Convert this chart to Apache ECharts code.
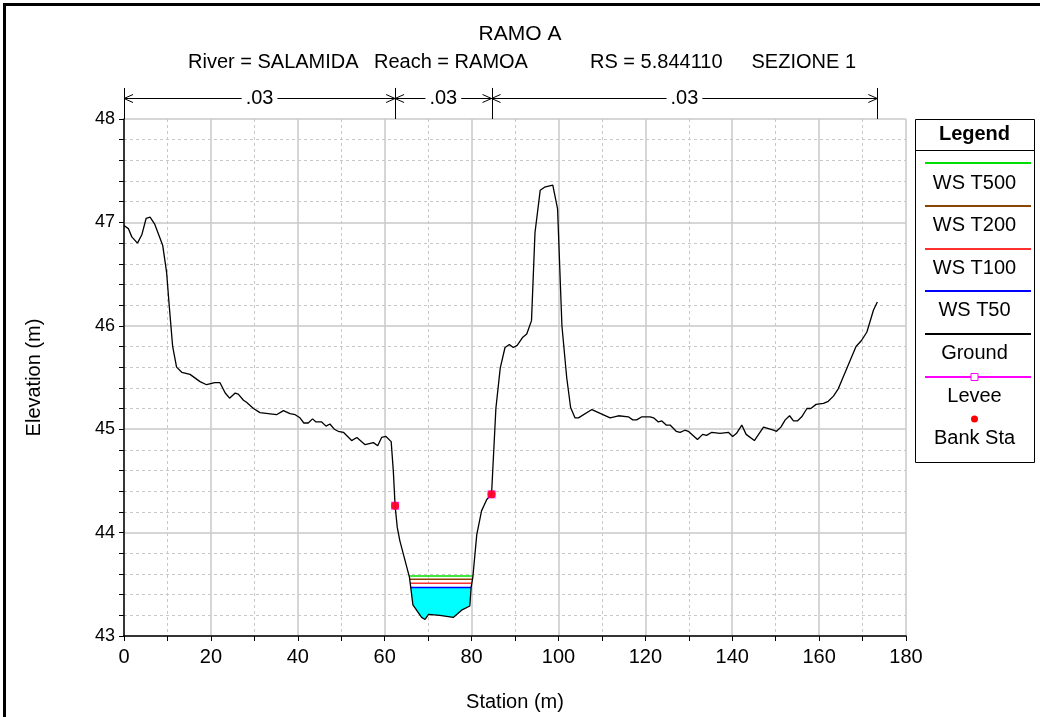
<!DOCTYPE html>
<html>
<head>
<meta charset="utf-8">
<script src="https://cdn.jsdelivr.net/npm/echarts@6/dist/echarts.min.js"></script>
<style>html,body{margin:0;padding:0;background:#fff;}#c{width:1040px;height:717px;}</style>
</head>
<body>
<div id="c"></div>
<script>
// ---- data ----
const groundStation = [0,1.0,1.8,3.1,4.1,5.1,6.0,7.1,8.9,9.8,10.4,11.2,12.1,13.3,15.2,17.5,19.0,20.9,22.1,23.3,24.3,25.6,26.3,27.5,28.2,29.8,31.3,35.1,36.7,38.2,39.4,40.5,41.4,42.4,43.4,44.2,45.5,46.5,47.4,48.4,49.3,50.5,52.4,53.6,55.5,57.4,58.4,59.3,60.3,61.5,62.0,62.4,62.9,63.5,65.7,66.0,66.5,68.5,69.3,70.1,72.7,75.8,77.7,79.6,79.9,80.3,81.2,82.3,83.5,84.6,85.6,86.6,87.7,88.7,89.6,90.5,91.8,92.7,93.8,94.6,95.8,96.8,98.7,99.8,100.8,101.9,102.8,103.8,104.6,107.7,111.9,113.8,116.1,117.1,118.0,119.2,121.1,121.9,123.0,123.8,124.8,125.7,127.1,128.0,129.1,129.9,132.0,133.2,134.1,135.3,137.2,139.1,140.1,141.0,142.2,143.2,145.1,147.2,149.5,150.2,151.2,152.2,153.2,154.1,155.0,156.0,157.2,158.1,159.3,161.0,162.1,163.3,164.4,165.4,166.3,167.5,168.5,169.8,171.0,172.5,173.4];
const groundElev = [46.97,46.94,46.86,46.80,46.88,47.04,47.05,46.98,46.78,46.52,46.20,45.80,45.60,45.55,45.53,45.46,45.43,45.45,45.45,45.35,45.30,45.35,45.34,45.28,45.26,45.20,45.16,45.14,45.18,45.15,45.14,45.11,45.06,45.06,45.10,45.07,45.07,45.03,45.05,45.00,44.98,44.97,44.89,44.92,44.85,44.87,44.84,44.92,44.93,44.88,44.59,44.26,44.05,43.92,43.57,43.47,43.30,43.18,43.16,43.21,43.20,43.18,43.25,43.29,43.47,43.57,43.98,44.21,44.32,44.37,45.20,45.59,45.79,45.82,45.79,45.81,45.89,45.92,46.05,46.90,47.31,47.34,47.36,47.13,46.00,45.50,45.21,45.11,45.11,45.19,45.11,45.13,45.12,45.09,45.09,45.12,45.12,45.11,45.07,45.08,45.04,45.04,44.98,44.97,44.99,44.98,44.90,44.95,44.94,44.97,44.96,44.97,44.93,44.96,45.04,44.95,44.89,45.02,44.99,44.98,45.02,45.09,45.13,45.08,45.08,45.12,45.20,45.20,45.24,45.25,45.27,45.32,45.39,45.49,45.58,45.70,45.80,45.86,45.94,46.15,46.23];
const wsNames = ['WS T500','WS T200','WS T100','WS T50'];
const wsElev = [43.58, 43.55, 43.51, 43.47];
const wsColors = ['#00e000','#8b4500','#ff3030','#0000ff'];
const bankStation = [62.4, 84.6];
const bankElev = [44.26, 44.37];
const nBounds = [0, 62.4, 84.6, 173.4];
const nLabels = ['.03', '.03', '.03'];
const xTicks = [0, 180, 20];
const yTicks = [43, 48, 1];

// ---- helpers (geometry only) ----
const ground = groundStation.map((s, i) => [s, groundElev[i]]);
let thalweg = 0;
groundElev.forEach((e, i) => { if (e < groundElev[thalweg]) thalweg = i; });
function crossings(ws) {
  let i = thalweg;
  while (i > 0 && groundElev[i - 1] < ws) i--;
  const a = ground[i - 1], b = ground[i];
  const xl = a[0] + (ws - a[1]) / (b[1] - a[1]) * (b[0] - a[0]);
  let j = thalweg;
  while (j < ground.length - 1 && groundElev[j + 1] < ws) j++;
  const c = ground[j], d = ground[j + 1];
  const xr = c[0] + (ws - c[1]) / (d[1] - c[1]) * (d[0] - c[0]);
  return { xl, xr, i, j };
}
const wetWs = wsElev[wsElev.length - 1];
const wc = crossings(wetWs);
const wetPoly = [[wc.xl, wetWs]].concat(ground.slice(wc.i, wc.j + 1)).concat([[wc.xr, wetWs]]);

const FONT = "'Liberation Sans', Arial, sans-serif";
const FS = 20;
const chart = echarts.init(document.getElementById('c'));

const series = [];
series.push({
  type: 'custom', name: 'water', silent: true, z: 2,
  data: [[70, 43.3]],
  renderItem: function (params, api) {
    return { type: 'polygon', shape: { points: wetPoly.map(p => api.coord(p)) }, style: { fill: '#00ffff' } };
  }
});
wsNames.forEach((n, k) => {
  const c = crossings(wsElev[k]);
  series.push({
    type: 'line', name: n, z: 3, symbol: 'none', silent: true,
    data: [[c.xl, wsElev[k]], [c.xr, wsElev[k]]],
    lineStyle: { color: wsColors[k], width: 1.5 }
  });
});
series.push({
  type: 'line', name: 'Ground', z: 4, symbol: 'none', silent: true,
  data: ground, lineStyle: { color: '#000', width: 1.3 }
});
series.push({
  type: 'scatter', name: 'Levee', z: 5, symbol: 'rect', symbolSize: 8, silent: true,
  data: bankStation.map((s, i) => [s, bankElev[i]]),
  itemStyle: { color: '#ff00ff' }
});
series.push({
  type: 'scatter', name: 'Bank Sta', z: 6, symbol: 'circle', symbolSize: 8, silent: true,
  data: bankStation.map((s, i) => [s, bankElev[i]]),
  itemStyle: { color: '#ff0000' }
});
// Manning's n arrows above plot
series.push({
  type: 'custom', name: 'nvalues', silent: true, clip: false, z: 7,
  data: nLabels.map((l, i) => [nBounds[i], nBounds[i + 1], i]),
  renderItem: function (params, api) {
    const s0 = api.value(0), s1 = api.value(1), idx = api.value(2);
    const p0 = api.coord([s0, 48.2]), p1 = api.coord([s1, 48.2]);
    const top0 = api.coord([s0, 48.3]), bot0 = api.coord([s0, 48]);
    const top1 = api.coord([s1, 48.3]), bot1 = api.coord([s1, 48]);
    const y = Math.round(p0[1]) + 0.5;
    const ah = 9, aw = 4;
    const ls = { stroke: '#000', lineWidth: 1, fill: null };
    const children = [
      { type: 'line', shape: { x1: p0[0], y1: y, x2: p1[0], y2: y }, style: ls },
      { type: 'polyline', shape: { points: [[p0[0] + ah, y - aw], [p0[0], y], [p0[0] + ah, y + aw]] }, style: ls },
      { type: 'polyline', shape: { points: [[p1[0] - ah, y - aw], [p1[0], y], [p1[0] - ah, y + aw]] }, style: ls },
      { type: 'line', shape: { x1: Math.round(top0[0]) + 0.5, y1: top0[1], x2: Math.round(bot0[0]) + 0.5, y2: bot0[1] }, style: ls },
      { type: 'line', shape: { x1: Math.round(top1[0]) + 0.5, y1: top1[1], x2: Math.round(bot1[0]) + 0.5, y2: bot1[1] }, style: ls },
      { type: 'text', x: (p0[0] + p1[0]) / 2, y: y, style: { text: nLabels[idx], fill: '#000', font: FS + 'px ' + FONT, align: 'center', verticalAlign: 'middle', backgroundColor: '#fff', padding: [0, 4] } }
    ];
    return { type: 'group', children: children };
  }
});

// legend graphic
const LX = 915, LY = 119, LW = 119, LH = 343;
const legendItems = [
  { t: 'WS T500', c: wsColors[0], ly: 163, ty: 183 },
  { t: 'WS T200', c: wsColors[1], ly: 206, ty: 225 },
  { t: 'WS T100', c: wsColors[2], ly: 249, ty: 268 },
  { t: 'WS T50', c: wsColors[3], ly: 291, ty: 310 },
  { t: 'Ground', c: '#000', ly: 334, ty: 353 },
  { t: 'Levee', c: '#ff00ff', ly: 377, ty: 396, sq: true },
  { t: 'Bank Sta', c: null, ly: 419, ty: 438, dot: true }
];
const graphic = [
  { type: 'line', shape: { x1: 4.5, y1: 3, x2: 4.5, y2: 717 }, style: { stroke: '#000', lineWidth: 3 } },
  { type: 'line', shape: { x1: 3, y1: 4.5, x2: 1040, y2: 4.5 }, style: { stroke: '#000', lineWidth: 3 } },
  { type: 'text', x: 520, y: 34, style: { text: 'RAMO A', font: '21px ' + FONT, fill: '#000', align: 'center', verticalAlign: 'middle' } },
  { type: 'text', x: 188, y: 62, style: { text: 'River = SALAMIDA', font: FS + 'px ' + FONT, fill: '#000', align: 'left', verticalAlign: 'middle' } },
  { type: 'text', x: 374, y: 62, style: { text: 'Reach = RAMOA', font: FS + 'px ' + FONT, fill: '#000', align: 'left', verticalAlign: 'middle' } },
  { type: 'text', x: 590, y: 62, style: { text: 'RS = 5.844110', font: FS + 'px ' + FONT, fill: '#000', align: 'left', verticalAlign: 'middle' } },
  { type: 'text', x: 856, y: 62, style: { text: 'SEZIONE 1', font: FS + 'px ' + FONT, fill: '#000', align: 'right', verticalAlign: 'middle' } },
  { type: 'rect', shape: { x: LX + 0.5, y: LY + 0.5, width: LW, height: LH }, style: { fill: '#fff', stroke: '#000', lineWidth: 1 } },
  { type: 'line', shape: { x1: LX, y1: 150.5, x2: LX + LW, y2: 150.5 }, style: { stroke: '#000', lineWidth: 1 } },
  { type: 'text', x: LX + LW / 2, y: 134, style: { text: 'Legend', font: 'bold ' + FS + 'px ' + FONT, fill: '#000', align: 'center', verticalAlign: 'middle' } }
];
legendItems.forEach(it => {
  if (it.dot) {
    graphic.push({ type: 'circle', shape: { cx: LX + LW / 2, cy: it.ly, r: 3.5 }, style: { fill: '#ff0000' } });
  } else {
    graphic.push({ type: 'line', shape: { x1: LX + 10, y1: it.ly, x2: LX + LW - 3, y2: it.ly }, style: { stroke: it.c, lineWidth: 2 } });
  }
  if (it.sq) {
    graphic.push({ type: 'rect', shape: { x: LX + LW / 2 - 3.5, y: it.ly - 3.5, width: 7, height: 7 }, style: { fill: '#fff', stroke: '#ff00ff', lineWidth: 1 } });
  }
  graphic.push({ type: 'text', x: LX + LW / 2, y: it.ty, style: { text: it.t, font: FS + 'px ' + FONT, fill: '#000', align: 'center', verticalAlign: 'middle' } });
});

chart.setOption({
  animation: false,
  backgroundColor: '#fff',
  grid: { left: 124, right: 134, top: 119, bottom: 78, containLabel: false },
  xAxis: {
    type: 'value', min: xTicks[0], max: xTicks[1], interval: xTicks[2],
    name: 'Station (m)', nameLocation: 'middle', nameGap: 56,
    nameTextStyle: { fontFamily: FONT, fontSize: FS, color: '#000' },
    axisLine: { show: true, lineStyle: { color: '#000', width: 1.5 } },
    axisTick: { show: true, length: 5, lineStyle: { color: '#000' } },
    minorTick: { show: true, splitNumber: 2, length: 5, lineStyle: { color: '#000' } },
    axisLabel: { fontFamily: FONT, fontSize: FS, color: '#000', margin: 11 },
    splitLine: { show: true, lineStyle: { color: '#c8c8c8', width: 1.5 } },
    minorSplitLine: { show: true, lineStyle: { color: '#c8c8c8', type: [3, 3], width: 1 } }
  },
  yAxis: {
    type: 'value', min: yTicks[0], max: yTicks[1], interval: yTicks[2],
    name: 'Elevation (m)', nameLocation: 'middle', nameGap: 80, nameRotate: 90,
    nameTextStyle: { fontFamily: FONT, fontSize: FS, color: '#000' },
    axisLine: { show: true, lineStyle: { color: '#000', width: 1.5 } },
    axisTick: { show: true, length: 5, lineStyle: { color: '#000' } },
    minorTick: { show: true, splitNumber: 5, length: 5, lineStyle: { color: '#000' } },
    axisLabel: { fontFamily: FONT, fontSize: 18, color: '#000', margin: 9 },
    splitLine: { show: true, lineStyle: { color: '#c8c8c8', width: 1.5 } },
    minorSplitLine: { show: true, lineStyle: { color: '#c8c8c8', type: [3, 3], width: 1 } }
  },
  series: series,
  graphic: graphic
});
</script>
</body>
</html>
